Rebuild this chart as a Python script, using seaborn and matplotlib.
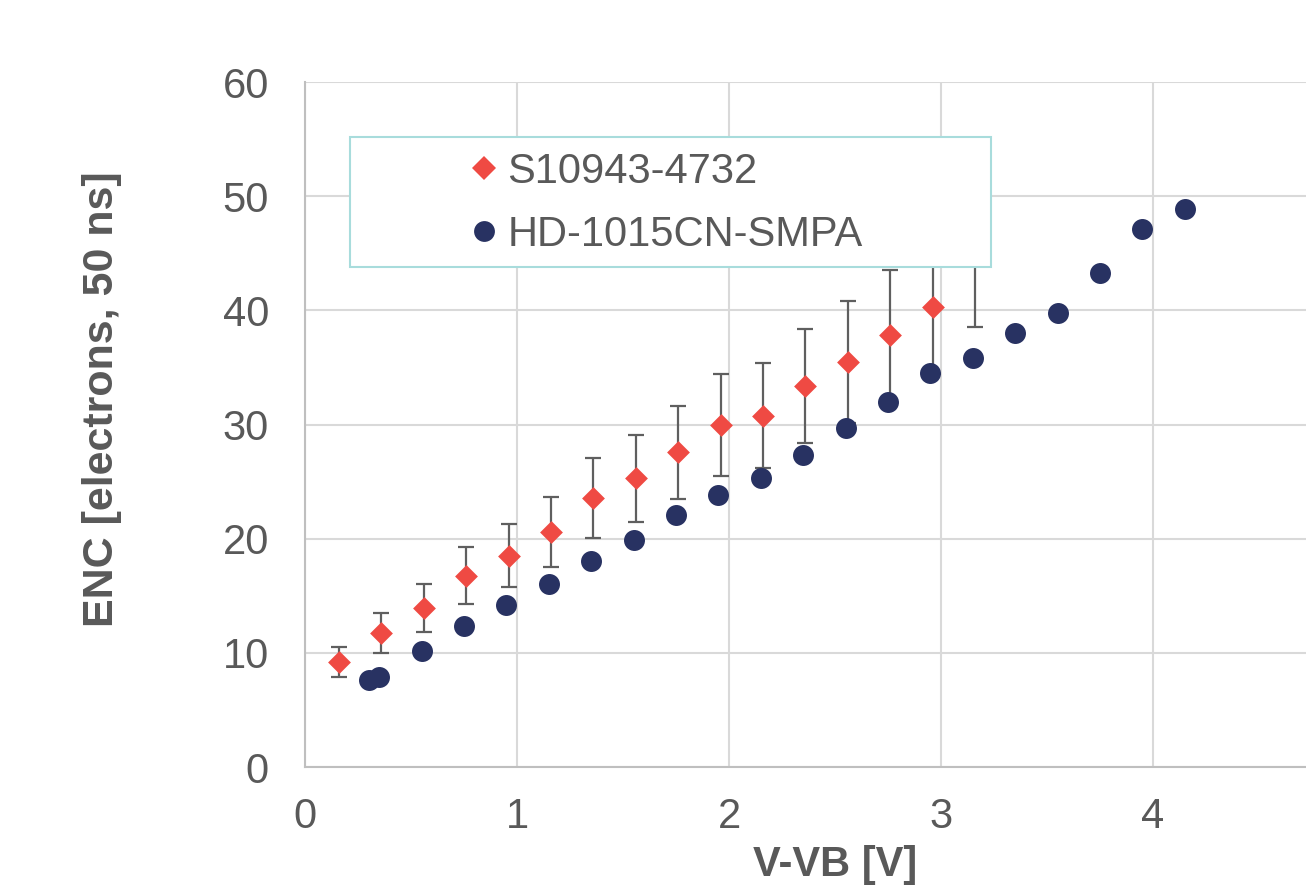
import matplotlib
matplotlib.use("Agg")
import matplotlib.pyplot as plt
import matplotlib.patches as mpatches
from matplotlib.lines import Line2D
import seaborn as sns
import pandas as pd

# ---- data ----
red_label = "S10943-4732"
navy_label = "HD-1015CN-SMPA"
red_x = [0.16, 0.36, 0.56, 0.76, 0.96, 1.16, 1.36, 1.56, 1.76, 1.96, 2.16, 2.36, 2.56, 2.76, 2.96, 3.16]
red_y = [9.2, 11.7, 13.95, 16.75, 18.5, 20.6, 23.6, 25.3, 27.55, 29.95, 30.75, 33.4, 35.45, 37.8, 40.3, 46.0]
red_err = [1.35, 1.75, 2.1, 2.5, 2.75, 3.05, 3.5, 3.8, 4.1, 4.5, 4.6, 5.0, 5.35, 5.7, 5.9, 7.5]
navy_x = [0.30, 0.35, 0.55, 0.75, 0.95, 1.15, 1.35, 1.55, 1.75, 1.95, 2.15, 2.35, 2.55, 2.75,
          2.95, 3.15, 3.35, 3.55, 3.75, 3.95, 4.15]
navy_y = [7.6, 7.9, 10.15, 12.35, 14.15, 16.0, 18.05, 19.9, 22.05, 23.8, 25.3, 27.3, 29.65, 31.95,
          34.55, 35.8, 38.05, 39.8, 43.3, 47.1, 48.9]
x_ticks = [0, 1, 2, 3, 4]
y_ticks = [0, 10, 20, 30, 40, 50, 60]
x_title = "V-VB [V]"
y_title = "ENC [electrons, 50 ns]"

RED = "#EF4A43"
NAVY = "#283262"
TXT = "#595959"

sns.set_theme(style="white")
plt.rcParams["font.family"] = ["Liberation Sans", "DejaVu Sans"]

fig = plt.figure(figsize=(13.06, 8.88), dpi=100)
W, H = 1306, 888
ax = fig.add_axes([305 / W, (H - 767) / H, 1060 / W, 685 / H])

df_red = pd.DataFrame({"x": red_x, "y": red_y})
df_navy = pd.DataFrame({"x": navy_x, "y": navy_y})

ax.errorbar(red_x, red_y, yerr=red_err, fmt="none", ecolor="#5f5f5f",
            elinewidth=1.6, capsize=5.5, capthick=1.6, zorder=1.5)
sns.scatterplot(data=df_red, x="x", y="y", ax=ax, marker="D", color=RED,
                s=135, linewidth=0, zorder=2.5)
sns.scatterplot(data=df_navy, x="x", y="y", ax=ax, marker="o", color=NAVY,
                s=228, linewidth=0, zorder=2.6)

ax.set_xlim(0, 5)
ax.set_ylim(0, 60)
ax.set_xticks(x_ticks)
ax.set_yticks(y_ticks)
ax.grid(True, color="#D9D9D9", linewidth=1.5, zorder=0)
ax.set_axisbelow(True)
for s in ["top", "right"]:
    ax.spines[s].set_visible(False)
for s in ["left", "bottom"]:
    ax.spines[s].set_color("#BFBFBF")
    ax.spines[s].set_linewidth(1.5)
ax.tick_params(axis="both", length=0, labelsize=30, colors=TXT)
ax.tick_params(axis="x", pad=21.5)
ax.tick_params(axis="y", pad=26)
ax.set_xlabel(x_title, fontsize=30, fontweight="bold", color=TXT, labelpad=6)
ax.set_ylabel(y_title, fontsize=31, fontweight="bold", color=TXT)
ax.yaxis.set_label_coords(-(305 - 122) / 1060, (767 - 399) / 685, transform=ax.transAxes)
ax.yaxis.label.set_horizontalalignment("center")
ax.yaxis.label.set_verticalalignment("bottom")

# legend box
rect = mpatches.Rectangle((350 / W, 1 - 267 / H), (991 - 350) / W, (267 - 137) / H,
                          transform=fig.transFigure, facecolor="white",
                          edgecolor="#A8DCDC", linewidth=1.5, zorder=4)
ax.add_patch(rect)
handles = [Line2D([], [], marker="D", ls="", color=RED, markersize=12.0, markeredgewidth=0),
           Line2D([], [], marker="o", ls="", color=NAVY, markersize=15.0, markeredgewidth=0)]
leg = ax.legend(handles, [red_label, navy_label], loc="upper left",
                bbox_to_anchor=(472 / W, 1 - 152 / H), bbox_transform=fig.transFigure,
                frameon=False, fontsize=30, handlelength=0.6, handletextpad=0.25,
                labelspacing=0.54, borderpad=0, borderaxespad=0)
for t in leg.get_texts():
    t.set_color(TXT)
leg.set_zorder(5)

fig.savefig("out.png", dpi=100)
